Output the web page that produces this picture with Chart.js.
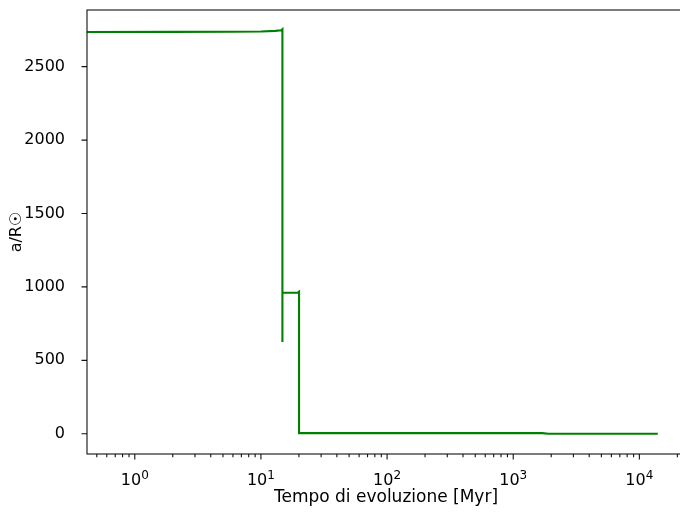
<!DOCTYPE html>
<html>
<head>
<meta charset="utf-8">
<script src="https://cdn.jsdelivr.net/npm/chart.js@4/dist/chart.umd.min.js"></script>
<style>
  html, body { margin: 0; padding: 0; background: #fff; overflow: hidden; }
  #orbitChart { display: block; }
</style>
</head>
<body>
<canvas id="orbitChart" width="686" height="517"></canvas>
<script>
// Binary separation vs. evolution time (log time axis)
const timeMyr = [0.3, 2, 6, 10, 13, 14.5, 14.8, 14.8, 14.8, 19.6, 20.05, 20.05, 1700, 1900, 14000];
const separation = [2736, 2737, 2738, 2740, 2744, 2748, 2755, 625, 960, 962, 968, 4, 4, 0, 0];

const xMin = 0.418;
const xMax = 23000;
const yMin = -138;
const yMax = 2886;
const yTicks = [0, 500, 1000, 1500, 2000, 2500];
const xTicks = [];
[0.1, 1, 10, 100, 1000, 10000].forEach(d => {
    for (let m = 1; m <= 9; m++) {
        const v = +(m * d).toPrecision(6);
        if (v >= xMin && v <= xMax) xTicks.push(v);
    }
});

const FONT = "'DejaVu Sans', sans-serif";

function isDecade(v) {
    const l = Math.log10(v);
    return Math.abs(l - Math.round(l)) < 1e-9;
}

Chart.defaults.font.family = FONT;
Chart.defaults.font.size = 16;
Chart.defaults.color = '#000';

// matplotlib-like frame, outward tick marks and 10^n labels
const frameTicks = {
    id: 'frameTicks',
    afterDatasetsDraw(chart) {
        const { ctx, chartArea: a, scales: { x, y } } = chart;
        ctx.save();
        ctx.strokeStyle = '#111';
        ctx.lineWidth = 1.1;
        ctx.strokeRect(a.left, a.top, a.right - a.left, a.bottom - a.top);
        ctx.beginPath();
        x.ticks.forEach(t => {
            const px = x.getPixelForValue(t.value);
            const len = isDecade(t.value) ? 5.5 : 3.2;
            ctx.moveTo(px, a.bottom);
            ctx.lineTo(px, a.bottom + len);
        });
        y.ticks.forEach(t => {
            const py = y.getPixelForValue(t.value);
            ctx.moveTo(a.left, py);
            ctx.lineTo(a.left - 5.5, py);
        });
        ctx.stroke();

        // decade labels: "10" with a raised exponent
        ctx.fillStyle = '#000';
        ctx.textBaseline = 'alphabetic';
        ctx.textAlign = 'left';
        const baseY = a.bottom + 31;
        x.ticks.forEach(t => {
            if (!isDecade(t.value)) return;
            const exp = String(Math.round(Math.log10(t.value)));
            ctx.font = '16px ' + FONT;
            const wBase = ctx.measureText('10').width;
            ctx.font = '12px ' + FONT;
            const wExp = ctx.measureText(exp).width;
            const left = x.getPixelForValue(t.value) - (wBase + wExp) / 2;
            ctx.font = '16px ' + FONT;
            ctx.fillText('10', left, baseY);
            ctx.font = '12px ' + FONT;
            ctx.fillText(exp, left + wBase, baseY - 6);
        });
        ctx.restore();
    }
};

function noPadding(scale) {
    scale.paddingLeft = 0;
    scale.paddingRight = 0;
    scale.paddingTop = 0;
    scale.paddingBottom = 0;
}

new Chart(document.getElementById('orbitChart').getContext('2d'), {
    type: 'line',
    data: {
        datasets: [{
            data: timeMyr.map((t, i) => ({ x: t, y: separation[i] })),
            borderColor: '#008000',
            borderWidth: 2.1,
            pointRadius: 0,
            tension: 0,
            fill: false
        }]
    },
    options: {
        responsive: false,
        animation: false,
        layout: { padding: { top: 10, right: 1, left: 0, bottom: 0 } },
        plugins: {
            legend: { display: false },
            tooltip: { enabled: false }
        },
        scales: {
            x: {
                type: 'logarithmic',
                min: xMin,
                max: xMax,
                grid: { display: false },
                border: { display: false },
                afterBuildTicks: scale => {
                    scale.ticks = xTicks.map(v => ({ value: v }));
                },
                afterFit: scale => {
                    scale.height = 63;
                    noPadding(scale);
                },
                ticks: {
                    autoSkip: false,
                    maxRotation: 0,
                    minRotation: 0,
                    callback: () => ''
                },
                title: {
                    display: true,
                    text: 'Tempo di evoluzione [Myr]',
                    font: { size: 17 },
                    padding: { top: 0, bottom: 9 }
                }
            },
            y: {
                type: 'linear',
                min: yMin,
                max: yMax,
                grid: { display: false },
                border: { display: false },
                afterBuildTicks: scale => {
                    scale.ticks = yTicks.map(v => ({ value: v }));
                },
                afterFit: scale => {
                    scale.width = 87;
                    noPadding(scale);
                },
                ticks: {
                    padding: 14,
                    callback: v => String(v)
                },
                title: {
                    display: true,
                    text: 'a/R\u2609',
                    padding: { top: 7, bottom: 0 }
                }
            }
        }
    },
    plugins: [frameTicks]
});
</script>
</body>
</html>
